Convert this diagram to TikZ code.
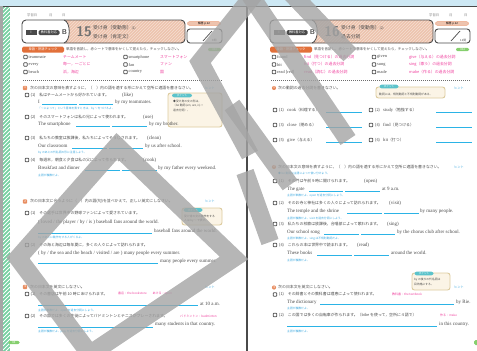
\documentclass[tikz,border=0pt]{standalone}
\usepackage{fontspec}
\setmainfont{Liberation Serif}
\newfontfamily\jp{Noto Sans CJK JP}
\usetikzlibrary{positioning}

\definecolor{skyband}{HTML}{CDE8F4}
\definecolor{titlefill}{HTML}{EDC3AE}
\definecolor{tagorange}{HTML}{E2703A}
\definecolor{meanpink}{HTML}{EE3E9C}
\definecolor{blankblue}{HTML}{2BB3E6}
\definecolor{hintblue}{HTML}{3AA6DD}
\definecolor{memofill}{HTML}{FBF4E6}
\definecolor{memoedge}{HTML}{DCCB9E}
\definecolor{pointteal}{HTML}{5BC3CB}
\definecolor{stripegreen}{HTML}{74CFA0}
\definecolor{pillgreen}{HTML}{86CF6E}
\definecolor{inkgray}{HTML}{4A4A4A}
\definecolor{wmgray}{HTML}{A4A4A4}

\tikzset{
  jtxt/.style={anchor=west,inner sep=0pt,text=inkgray,font=\jp\fontsize{3.9}{4.6}\selectfont},
  etxt/.style={anchor=west,inner sep=0pt,text=inkgray,font=\fontsize{5}{6}\selectfont},
  wordtxt/.style={anchor=west,inner sep=0pt,text=inkgray,font=\fontsize{4.4}{5}\selectfont},
  meantxt/.style={anchor=west,inner sep=0pt,text=meanpink,font=\jp\fontsize{3.9}{4.6}\selectfont},
  hinttxt/.style={anchor=west,inner sep=0pt,text=hintblue,font=\jp\fontsize{2.8}{3.4}\selectfont},
  memotxt/.style={anchor=west,inner sep=0pt,text=inkgray,font=\jp\fontsize{2.8}{3.4}\selectfont},
  titletxt/.style={anchor=west,inner sep=0pt,align=left,text=inkgray,font=\jp\fontsize{4.8}{9}\selectfont},
  blankline/.style={draw=blankblue,line width=0.9pt},
  chkbox/.style={draw=inkgray,fill=white,line width=0.7pt,rounded corners=0.6pt,minimum size=3.4pt,inner sep=0pt},
  secnum/.style={fill=tagorange!80,rounded corners=0.8pt,minimum size=4.2pt,inner sep=0pt,text=white,font=\fontsize{3}{3}\selectfont\bfseries},
  memobox/.style={fill=memofill,draw=memoedge,line width=0.9pt,rounded corners=2.5pt},
  pointpill/.style={fill=pointteal,rounded corners=2pt,inner sep=0.6pt,text=white,font=\jp\fontsize{2.6}{3}\selectfont},
  hintmark/.style={anchor=west,inner sep=0pt,text=hintblue,font=\jp\fontsize{3.2}{3.5}\selectfont},
  greenpill/.style={fill=pillgreen,rounded corners=2pt,inner sep=0.7pt,text=white,font=\fontsize{3}{3}\selectfont},
  wm/.style={draw=wmgray,line width=18pt,opacity=0.8,line join=miter}
}

\begin{document}
\begin{tikzpicture}[x=1pt,y=-1pt]
\useasboundingbox (0,0) rectangle (477,351);
% paper and spine
\fill[skyband] (0,0) rectangle (477,6);
\fill[black!35] (0,6) rectangle (3,351);
\fill[stripegreen] (3,6) rectangle (10,351);
\begin{scope}
  \clip (3,6) rectangle (10,351);
  \foreach \k in {6,10,...,360}
    \draw[white,line width=0.9pt] (3,\k) -- (10,\k-7);
\end{scope}
\draw[inkgray,line width=0.8pt] (3,6) -- (477,6);
\draw[inkgray,line width=1.2pt] (247,6) -- (247,351);
\node[greenpill,minimum width=11pt] at (14,342.5) {88};
\fill[pillgreen,rounded corners=1.5pt] (474,340) rectangle (479,345);

% date lines
\node[jtxt,text=black!50,font=\jp\fontsize{3.3}{4}\selectfont] at (27,15) {学習日};
\node[jtxt,text=black!50,font=\jp\fontsize{3.3}{4}\selectfont] at (49,15) {月};
\node[jtxt,text=black!50,font=\jp\fontsize{3.3}{4}\selectfont] at (62,15) {日};
\node[jtxt,text=black!50,font=\jp\fontsize{3.3}{4}\selectfont] at (429,15) {学習日};
\node[jtxt,text=black!50,font=\jp\fontsize{3.3}{4}\selectfont] at (449,15) {月};
\node[jtxt,text=black!50,font=\jp\fontsize{3.3}{4}\selectfont] at (464,15) {日};

% unit headers
\foreach \dx/\no/\part/\subtitle/\qnum/\pg in {0/15/1/受け身（肯定文）/8/063,248/16/2/過去分詞/12/064}{
\begin{scope}[xshift=\dx]
  \fill[titlefill,rounded corners=4pt] (22,20) rectangle (185,43);
  \begin{scope}
    \clip[rounded corners=4pt] (22,20) rectangle (185,43);
    \foreach \k in {50,53,...,200}
      \draw[white,line width=0.5pt,opacity=0.45] (\k,43) -- (\k+23,20);
  \end{scope}
  \fill[white] (22,20) -- (64,20) .. controls (71,22) and (71,41) .. (64,43) -- (22,43) -- cycle;
  \draw[inkgray,line width=0.8pt] (64,20) .. controls (71,22) and (71,41) .. (64,43);
  \draw[inkgray,line width=0.9pt,rounded corners=4pt] (22,20) rectangle (185,43);
  \node[fill=inkgray,text=white,font=\jp\fontsize{3.4}{4}\selectfont,inner sep=0.6pt,minimum width=11pt,minimum height=5pt] at (31,32.5) {Ⅰ};
  \node[fill=inkgray,text=white,rounded corners=1.5pt,font=\jp\fontsize{3.2}{4}\selectfont,inner sep=0.6pt,minimum width=21pt,minimum height=5pt] at (49,32.5) {教科書対応};
  \node[text=inkgray,font=\sffamily\bfseries\fontsize{7}{7}\selectfont] at (64.5,32.5) {B};
  \node[text=black!55,font=\sffamily\bfseries\fontsize{14}{14}\selectfont,inner sep=0pt] at (84,31.5) {\no};
  \node[titletxt] at (93,32) {受け身（受動態）{\fontsize{3.4}{4}\selectfont(\part)}\\\subtitle};
  \node[draw=tagorange!60,fill=titlefill,rounded corners=2.5pt,inner sep=0.6pt,minimum width=33pt,font=\jp\fontsize{2.8}{3}\selectfont] at (204,23.5) {解答 p.12};
  \draw[inkgray,line width=0.9pt,rounded corners=3pt] (187,29) rectangle (222,43);
  \draw[inkgray,line width=0.7pt] (203,41) -- (212,31);
  \node[jtxt,font=\jp\fontsize{2.8}{3}\selectfont] at (212,40.5) {\qnum 問};
  \node[fill=tagorange,text=white,rounded corners=1.5pt,minimum width=42pt,minimum height=6pt,inner sep=0pt,font=\jp\fontsize{3.2}{3.5}\selectfont] at (43,49.5) {単語・熟語チェック};
  \node[jtxt,font=\jp\fontsize{3.5}{4}\selectfont] at (66,49.5) {単語を音読し，赤シートで意味をかくして覚えたら，チェックしなさい。};
  \node[greenpill,minimum width=13pt] at (214.5,49.5) {\pg};
  \draw[inkgray!80,line width=0.7pt,dash pattern=on 1.2pt off 0.8pt] (23,80) -- (222,80);
\end{scope}
}

% left word list
\foreach \wa/\ma/\wb/\mb [count=\i] in {teammate/チームメート/smartphone/スマートフォン,every/{毎～，～ごとに}/fan/ファン,beach/{浜，海辺}/country/国}{
  \node[chkbox] at (25.5,49.5+7.5*\i) {};
  \node[wordtxt] at (28.5,49.5+7.5*\i) {\wa};
  \node[meantxt] at (63,49.5+7.5*\i) {\ma};
  \node[chkbox] at (125.5,49.5+7.5*\i) {};
  \node[wordtxt] at (128.5,49.5+7.5*\i) {\wb};
  \node[meantxt] at (160,49.5+7.5*\i) {\mb};
}
% right word list
\foreach \wa/\ma/\wb/\mb [count=\i] in {found/find（見つける）の過去分詞/given/give（与える）の過去分詞,hit/hit（打つ）の過去分詞/sung/sing（歌う）の過去分詞,{read [red]}/read（読む）の過去分詞/made/make（作る）の過去分詞}{
  \node[chkbox] at (274,49.5+7.5*\i) {};
  \node[wordtxt] at (277,49.5+7.5*\i) {\wa};
  \node[meantxt] at (304,49.5+7.5*\i) {\ma};
  \node[chkbox] at (374,49.5+7.5*\i) {};
  \node[wordtxt] at (377,49.5+7.5*\i) {\wb};
  \node[meantxt] at (409,49.5+7.5*\i) {\mb};
}

% ---- left page, part 1
\node[secnum] at (25,88) {1};
\node[jtxt] at (30,88) {次の日本文の意味を表すように，（　）内の語を適する形にかえて空所に適語を書きなさい。};
\node[hintmark] at (205,88) {ヒント};
\node[memobox,minimum width=54pt,minimum height=34pt] at (195,110) {};
\node[pointpill,minimum width=20pt] at (182,95.5) {ポイント};
\node[memotxt] at (173,101) {◆受け身の文の形は，};
\node[memotxt] at (173,105.5) {〈be 動詞(am, are, is) +};
\node[memotxt] at (173,110) {過去分詞〉。};

\node[chkbox] at (27,95) {};
\node[jtxt] at (30.5,95) {(1)　私はチームメートから好かれています。};
\node[etxt] at (122,95) {(like)};
\node[etxt] at (38,102) {I};
\draw[blankline] (42,104.5) -- (77,104.5);
\draw[blankline] (79,104.5) -- (113,104.5);
\node[etxt] at (115,102) {by my teammates.};
\node[hinttxt] at (38,109) {「～によって」という意味を表すときは，by ～をつけるよ。};

\node[chkbox] at (27,117) {};
\node[jtxt] at (30.5,117) {(2)　そのスマートフォンは私の兄によって使われます。};
\node[etxt] at (143,117) {(use)};
\node[etxt] at (38,124) {The smartphone};
\draw[blankline] (76,126.5) -- (110,126.5);
\draw[blankline] (112,126.5) -- (147,126.5);
\node[etxt] at (149,124) {by my brother.};

\node[chkbox] at (27,138) {};
\node[jtxt] at (30.5,138) {(3)　私たちの教室は放課後，私たちによってそうじされます。};
\node[etxt] at (147,138) {(clean)};
\node[etxt] at (38,146) {Our classroom};
\draw[blankline] (72,148.5) -- (107,148.5);
\draw[blankline] (109,148.5) -- (143,148.5);
\node[etxt] at (145,146) {by us after school.};
\node[hinttxt] at (38,153) {by のあとの代名詞の形に注意しよう。};

\node[chkbox] at (27,160) {};
\node[jtxt] at (30.5,160) {(4)　毎週末，朝食と夕食は私の父によって作られます。};
\node[etxt] at (143,160) {(cook)};
\node[etxt] at (38,168) {Breakfast and dinner};
\draw[blankline] (85,170.5) -- (120,170.5);
\draw[blankline] (122,170.5) -- (157,170.5);
\node[etxt] at (158,168) {by my father every weekend.};
\node[hinttxt] at (38,175) {主語が複数だよ。};

% ---- left page, part 2
\node[secnum] at (25,201.5) {2};
\node[jtxt] at (30,201.5) {次の日本文に合うように（　）内の語(句)を並べかえて，正しい英文にしなさい。};
\node[hintmark] at (205,201.5) {ヒント};
\node[memobox,minimum width=40pt,minimum height=17pt] at (202,216.5) {};
\node[pointpill,minimum width=19pt] at (193,210) {ポイント};
\node[memotxt] at (184,216.5) {受け身の文の動作をする};
\node[memotxt] at (184,221) {人は by ～で表す。};

\node[chkbox] at (27,213) {};
\node[jtxt] at (30.5,213) {(1)　その選手は世界中の野球ファンによって愛されています。};
\node[etxt] at (38,222.5) {( loved / the player / by / is ) baseball fans around the world.};
\draw[blankline] (38,233) -- (152,233);
\node[etxt] at (154,231) {baseball fans around the world.};
\node[hinttxt] at (38,238) {by のあとに動作をする人がくるよ。};

\node[chkbox] at (27,245) {};
\node[jtxt] at (30.5,245) {(2)　その海と海辺は毎年夏に，多くの人々によって訪れられます。};
\node[etxt] at (38,253) {( by / the sea and the beach / visited / are ) many people every summer.};
\draw[blankline] (38,263) -- (158,263);
\node[etxt] at (160,261) {many people every summer.};

% ---- left page, part 3
\node[secnum] at (25,287) {3};
\node[jtxt] at (30,287) {次の日本文を英文にしなさい。};
\node[hintmark] at (205,287) {ヒント};
\node[chkbox] at (27,294) {};
\node[jtxt] at (30.5,294) {(1)　その書店は午前 10 時にあけられます。};
\node[meantxt,font=\jp\fontsize{3}{3.5}\selectfont] at (118,294) {書店：the bookstore　　あける：open};
\draw[blankline] (38,305.5) -- (198,305.5);
\node[etxt] at (200,303.5) {at 10 a.m.};
\node[hinttxt] at (38,310.5) {主語が単数だよ。open を過去分詞にしよう。};
\node[chkbox] at (27,316) {};
\node[jtxt] at (30.5,316) {(2)　その国では多くの生徒によってバドミントンとテニスがプレーされます。};
\node[meantxt,font=\jp\fontsize{3}{3.5}\selectfont] at (180,316) {バドミントン：badminton};
\draw[blankline] (38,327) -- (153,327);
\node[etxt] at (155,324.5) {many students in that country.};
\node[hinttxt] at (38,331.5) {主語が複数だよ。play を過去分詞にしよう。};

% ---- right page, part 1
\node[secnum,circle] at (274,88) {1};
\node[jtxt] at (278,88) {次の動詞の過去分詞を書きなさい。};
\node[memobox,minimum width=69pt,minimum height=11pt] at (410.5,92.5) {};
\node[pointpill,minimum width=19pt] at (389,86.5) {ポイント};
\node[memotxt] at (379,94) {動詞には，規則動詞と不規則動詞がある。};
\node[hintmark] at (454,88) {ヒント};
\foreach \va/\ja/\vb/\jb [count=\i] in {cook/料理する/study/勉強する,close/閉める/find/見つける,give/与える/hit/打つ}{
  \pgfmathsetmacro\ya{95+15*\i}
  \pgfmathtruncatemacro\na{2*\i-1}
  \pgfmathtruncatemacro\nb{2*\i}
  \node[chkbox] at (275,\ya) {};
  \node[jtxt] at (279,\ya) {(\na)};
  \node[jtxt] at (287,\ya) {{\rmfamily\fontsize{4.6}{5}\selectfont\va}（\ja）};
  \draw[blankline] (326,\ya+2.5) -- (362,\ya+2.5);
  \node[chkbox] at (371,\ya) {};
  \node[jtxt] at (375,\ya) {(\nb)};
  \node[jtxt] at (383,\ya) {{\rmfamily\fontsize{4.6}{5}\selectfont\vb}（\jb）};
  \draw[blankline] (436,\ya+2.5) -- (472,\ya+2.5);
}

% ---- right page, part 2
\node[secnum,circle] at (274,167) {2};
\node[jtxt] at (278,167) {次の日本文の意味を表すように，（　）内の語を適する形にかえて空所に適語を書きなさい。};
\node[hintmark] at (454,167) {ヒント};
\node[hinttxt] at (278,173) {◆ be 動詞は主語によって使い分けよう。};

\node[chkbox] at (275,181) {};
\node[jtxt] at (279,181) {(1)　その門は午前９時に開けられます。};
\node[etxt] at (364,181) {(open)};
\node[etxt] at (287,189) {The gate};
\draw[blankline] (309,191.5) -- (343,191.5);
\draw[blankline] (345,191.5) -- (380,191.5);
\node[etxt] at (382,189) {at 9 a.m.};
\node[hinttxt] at (287,196) {主語が単数だよ。open を過去分詞にしよう。};

\node[chkbox] at (275,203) {};
\node[jtxt] at (279,203) {(2)　そのお寺と神社は多くの人々によって訪れられます。};
\node[etxt] at (389,203) {(visit)};
\node[etxt] at (287,211) {The temple and the shrine};
\draw[blankline] (347,213.5) -- (382,213.5);
\draw[blankline] (384,213.5) -- (419,213.5);
\node[etxt] at (420,211) {by many people.};
\node[hinttxt] at (287,218) {主語が複数だよ。visit を過去分詞にしよう。};

\node[chkbox] at (275,224) {};
\node[jtxt] at (279,224) {(3)　私たちの校歌は放課後，合唱部によって歌われます。};
\node[etxt] at (387,224) {(sing)};
\node[etxt] at (287,232) {Our school song};
\draw[blankline] (324,234.5) -- (359,234.5);
\draw[blankline] (361,234.5) -- (395,234.5);
\node[etxt] at (397,232) {by the chorus club after school.};
\node[hinttxt] at (287,239) {主語が単数だよ。sing は不規則動詞だよ。};

\node[chkbox] at (275,245) {};
\node[jtxt] at (279,245) {(4)　これらの本は世界中で読まれます。};
\node[etxt] at (357,245) {(read)};
\node[etxt] at (287,253) {These books};
\draw[blankline] (317,255.5) -- (352,255.5);
\draw[blankline] (354,255.5) -- (389,255.5);
\node[etxt] at (391,253) {around the world.};
\node[hinttxt] at (287,260) {主語が複数だよ。};

% ---- right page, part 3
\node[memobox,minimum width=38pt,minimum height=17pt] at (431,281.5) {};
\node[pointpill,minimum width=19pt] at (424,273.5) {ポイント};
\node[memotxt] at (414,280) {by の後ろの代名詞は};
\node[memotxt] at (414,284.5) {目的格にする。};
\node[secnum,circle] at (274,287.5) {3};
\node[jtxt] at (278,287.5) {次の日本文を英文にしなさい。};
\node[hintmark] at (454,287.5) {ヒント};
\node[chkbox] at (275,294.5) {};
\node[jtxt] at (279,294.5) {(1)　その辞書とその教科書は理恵によって使われます。};
\node[meantxt,font=\jp\fontsize{3}{3.5}\selectfont] at (392,294.5) {教科書：the textbook};
\node[etxt] at (287,302) {The dictionary};
\draw[blankline] (320,304.5) -- (454,304.5);
\node[etxt] at (456,302) {by Rie.};
\node[hinttxt] at (287,308.5) {主語が複数だよ。};
\node[chkbox] at (275,315) {};
\node[jtxt] at (279,315) {(2)　この国では多くの自転車が作られます。（bike を使って，空所に４語で）};
\node[meantxt,font=\jp\fontsize{3}{3.5}\selectfont] at (440,315) {作る：make};
\draw[blankline] (287,326) -- (437,326);
\node[etxt] at (439,324) {in this country.};
\node[hinttxt] at (287,331.5) {主語が複数だよ。};

% sample watermark
\draw[wm] (256,-8) -- (200,62) -- (250,155);
\draw[wm] (248,-8) -- (348,140);
\draw[wm] (290,-8) -- (350,55);
\draw[wm] (232,105) -- (290,185);
\draw[wm] (245,172) -- (270,242);
\draw[wm] (117,146) -- (18,258) -- (90,354) -- (234,258) -- cycle;
\end{tikzpicture}
\end{document}
